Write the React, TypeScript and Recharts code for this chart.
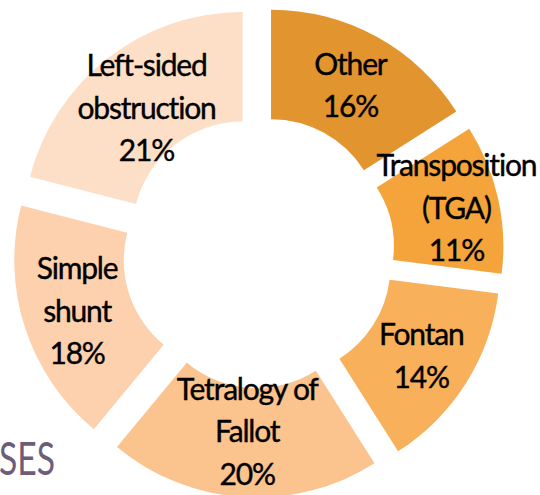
import { PieChart, Pie, Cell, Sector } from 'recharts';

const CATEGORIES = ['Other', 'Transposition\n(TGA)', 'Fontan', 'Tetralogy of\nFallot', 'Simple\nshunt', 'Left-sided\nobstruction'];
const SHARES = [16, 11, 14, 20, 18, 21];
const COLORS = ['#E2952E', '#F4A43A', '#F9B05A', '#FBC38D', '#FDD1AE', '#FDDEC6'];
// how far each label sits in or out of the middle of the ring (px), like the slide's "best fit"
const LABEL_SHIFT = [0, 12, 2, -11, 0, -8];

const data = CATEGORIES.map((name, i) => ({ name, value: SHARES[i] }));

const RAD = Math.PI / 180;
const EXPLODE = 26; // every slice pushed out from the centre

function ExplodedSector(props: any) {
  const mid = props.midAngle * RAD;
  return (
    <Sector
      {...props}
      cx={props.cx + EXPLODE * Math.cos(-mid)}
      cy={props.cy + EXPLODE * Math.sin(-mid)}
    />
  );
}

function SliceLabel(p: any) {
  const mid = p.midAngle * RAD;
  const ox = p.cx + EXPLODE * Math.cos(-mid);
  const oy = p.cy + EXPLODE * Math.sin(-mid);
  const r = (p.innerRadius + p.outerRadius) / 2 + (LABEL_SHIFT[p.index] ?? 0);
  const x = ox + r * Math.cos(-mid);
  const y = oy + r * Math.sin(-mid);
  const name: string = p.payload?.name ?? p.name;
  const value = p.payload?.value ?? p.value;
  const lines = [...name.split('\n'), `${value}%`];
  const lh = 42.5;
  const y0 = y - ((lines.length - 1) * lh) / 2 + 11;
  return (
    <text
      x={x}
      y={y0}
      textAnchor="middle"
      fontFamily="Lato"
      fontSize={30}
      letterSpacing={-1.2}
      fill="#000"
      stroke="#000"
      strokeWidth={0.4}
    >
      {lines.map((l, i) => (
        <tspan key={i} x={x} y={y0 + i * lh}>{l}</tspan>
      ))}
    </text>
  );
}

export default function App() {
  return (
    <div style={{ position: 'absolute', left: 0, top: 0, width: 540, height: 495, background: '#fff', overflow: 'hidden' }}>
      {/* leftover slide title peeking in at the bottom left */}
      <svg width={540} height={495} style={{ position: 'absolute', left: 0, top: 0 }}>
        <text x={-1} y={475} fontFamily="Lato" fontSize={46} fill="#6E5C78" textLength={56} lengthAdjust="spacingAndGlyphs">SES</text>
      </svg>
      <div style={{ position: 'absolute', left: 0, top: 0 }}>
        <PieChart width={540} height={495} margin={{ top: 0, right: 0, bottom: 0, left: 0 }}>
          <Pie
            data={data}
            dataKey="value"
            nameKey="name"
            cx={258.5}
            cy={252}
            innerRadius={110}
            outerRadius={219.5}
            startAngle={90}
            endAngle={-270}
            stroke="none"
            shape={ExplodedSector}
            label={SliceLabel}
            labelLine={false}
            isAnimationActive={false}
          >
            {data.map((_, i) => <Cell key={i} fill={COLORS[i]} />)}
          </Pie>
        </PieChart>
      </div>
    </div>
  );
}
